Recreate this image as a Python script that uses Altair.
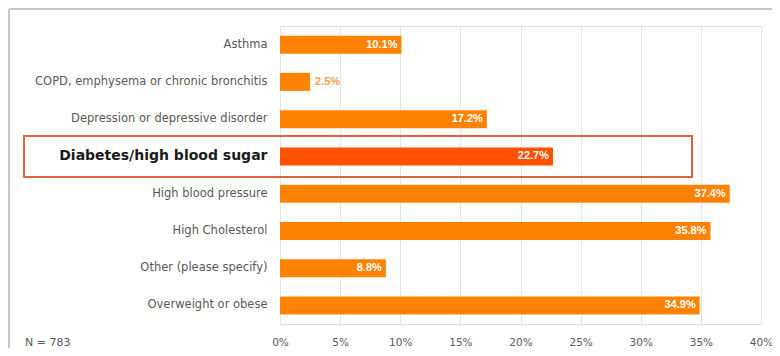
import altair as alt
import pandas as pd

categories = [
    "Asthma",
    "COPD, emphysema or chronic bronchitis",
    "Depression or depressive disorder",
    "Diabetes/high blood sugar",
    "High blood pressure",
    "High Cholesterol",
    "Other (please specify)",
    "Overweight or obese",
]
values = [10.1, 2.5, 17.2, 22.7, 37.4, 35.8, 8.8, 34.9]
highlight = "Diabetes/high blood sugar"
x_ticks = [0, 5, 10, 15, 20, 25, 30, 35, 40]
note = "N = 783"

df = pd.DataFrame({"cat": categories, "val": values})
df["label"] = [f"{v:.1f}%" for v in values]
df["hl"] = [c == highlight for c in categories]

FONT = "Liberation Sans"
YFONT = "DejaVu Sans"
W, H = 481, 298
PL, PT, PR, PB = 272, 18, 11, 24

y_enc = alt.Y(
    "cat:N",
    sort=categories,
    title=None,
    scale=alt.Scale(paddingInner=0, paddingOuter=0),
    axis=alt.Axis(
        ticks=False,
        domain=False,
        labelPadding=13,
        labelLimit=300,
        labelFont=YFONT,
        labelFontSize=alt.expr(f"datum.value == '{highlight}' ? 14 : 11.5"),
        labelFontWeight=alt.expr(f"datum.value == '{highlight}' ? 'bold' : 'normal'"),
        labelColor=alt.expr(f"datum.value == '{highlight}' ? '#1a1a1a' : '#595959'"),
    ),
)
x_enc = alt.X(
    "val:Q",
    title=None,
    scale=alt.Scale(domain=[0, 40], nice=False, zero=True),
    axis=alt.Axis(
        values=x_ticks,
        labelExpr="datum.value + '%'",
        ticks=False,
        domain=False,
        grid=True,
        gridColor="#E4E4E4",
        labelFont=YFONT,
        labelFontSize=10.5,
        labelColor="#595959",
        labelPadding=13,
        labelFlush=False,
    ),
)

base = alt.Chart(df)

bars = base.mark_bar(size=18).encode(
    y=y_enc,
    x=x_enc,
    color=alt.condition("datum.hl", alt.value("#FF5200"), alt.value("#FF8300")),
)

inside = base.transform_filter("datum.val >= 5").mark_text(
    align="right", baseline="middle", dx=-4, color="white",
    font=FONT, fontSize=11, fontWeight="bold"
).encode(y=alt.Y("cat:N", sort=categories), x="val:Q", text="label:N")

outside = base.transform_filter("datum.val < 5").mark_text(
    align="left", baseline="middle", dx=5, color="#F3A24C",
    font=FONT, fontSize=11, fontWeight="bold"
).encode(y=alt.Y("cat:N", sort=categories), x="val:Q", text="label:N")

hl_box = base.transform_filter("datum.hl").mark_bar(
    size=41, filled=False, stroke="#E2613E", strokeWidth=2
).encode(
    y=alt.Y("cat:N", sort=categories),
    x=alt.value(-256),
    x2=alt.value(412),
)

note_txt = alt.Chart(pd.DataFrame({"t": [note]})).mark_text(
    align="left", baseline="middle", font=YFONT, fontSize=11, color="#595959"
).encode(text="t:N", x=alt.value(-255), y=alt.value(317))

frame_top = alt.Chart(pd.DataFrame({"a": [0]})).mark_rule(
    color="#C8C8C8", strokeWidth=2
).encode(x=alt.value(-PL + 1), x2=alt.value(W + PR), y=alt.value(-PT + 1))
frame_left = alt.Chart(pd.DataFrame({"a": [0]})).mark_rule(
    color="#C8C8C8", strokeWidth=2
).encode(x=alt.value(-PL + 1), y=alt.value(-PT + 1), y2=alt.value(H + PB))

chart = alt.layer(bars, hl_box, inside, outside, note_txt, frame_top, frame_left).properties(
    width=W,
    height=H,
    autosize=alt.AutoSizeParams(type="none"),
    padding={"left": PL, "top": PT, "right": PR, "bottom": PB},
).configure_view(stroke=None).configure(background="white")

chart.save("out.html", embed_options={"renderer": "svg", "actions": False})
